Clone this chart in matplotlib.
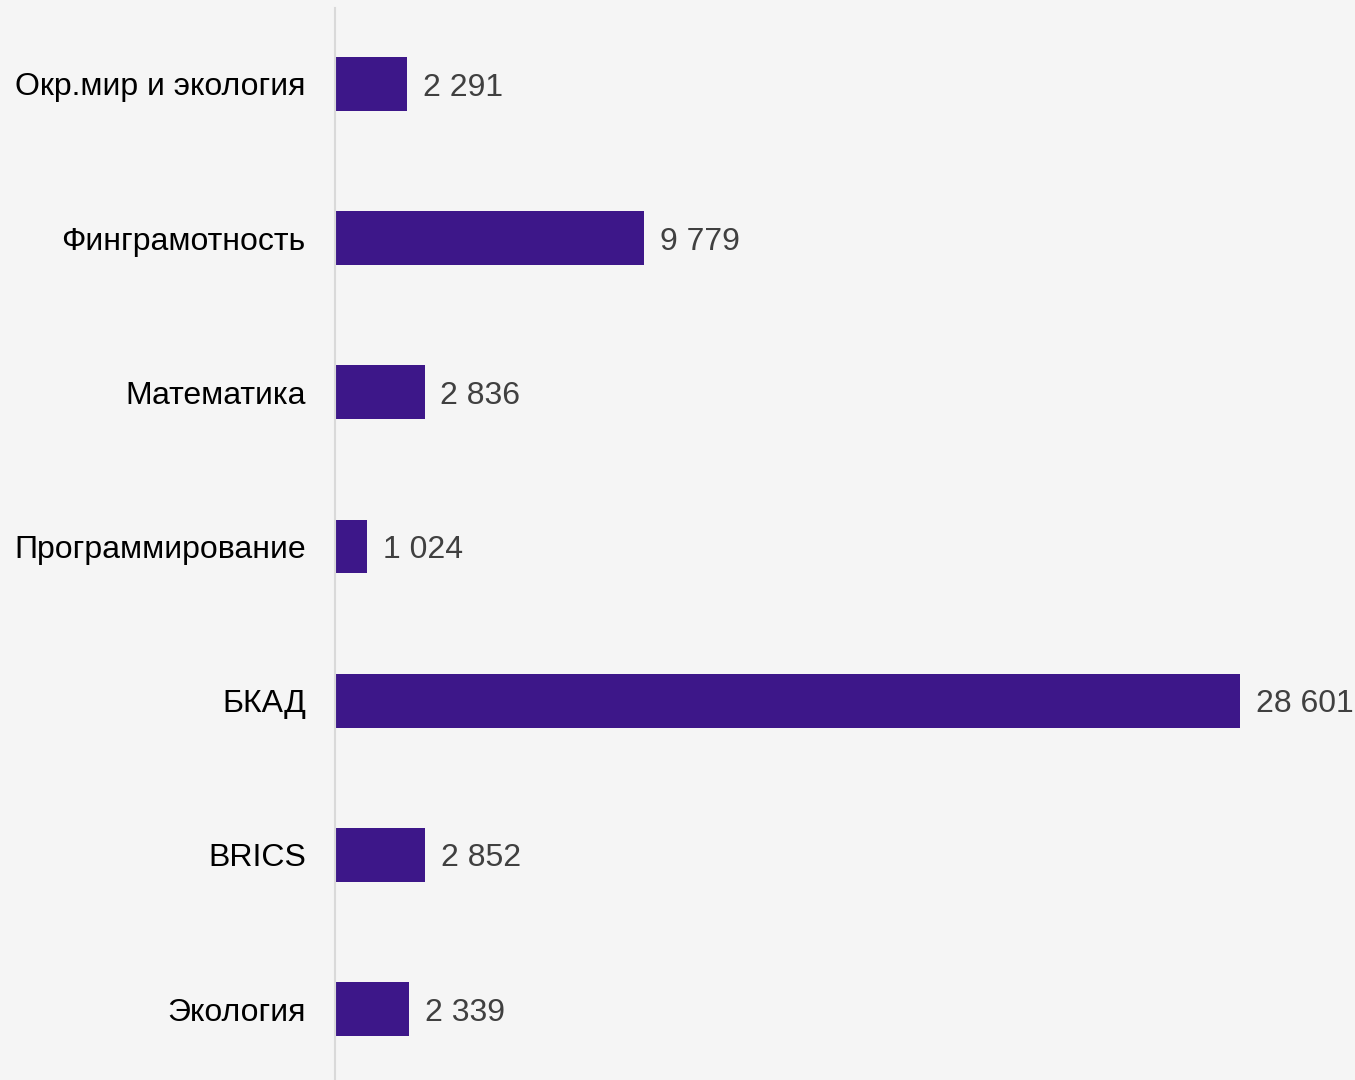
import matplotlib.pyplot as plt

plt.rcParams['font.family'] = ['Liberation Sans', 'DejaVu Sans']

categories = ['Окр.мир и экология', 'Финграмотность', 'Математика',
              'Программирование', 'БКАД', 'BRICS', 'Экология']
values = [2291, 9779, 2836, 1024, 28601, 2852, 2339]

bg = '#f5f5f5'
bar_color = '#3d1789'

fig = plt.figure(figsize=(13.55, 10.8), dpi=100, facecolor=bg)
ax = fig.add_axes([335 / 1355, 0, 1020 / 1355, 1072 / 1080], facecolor=bg)

pos = range(len(categories))
ax.barh(pos, values, height=0.35, color=bar_color)

ax.set_xlim(0, 1020 / 905 * 28601)
ax.set_ylim((1080 - 84) / 154.17, (8 - 84) / 154.17)

# value labels to the right of each bar
for y, v in zip(pos, values):
    ax.text(v + 490, y, f'{v:,}'.replace(',', ' '), va='center_baseline',
            ha='left', fontsize=23, color='#404040')

ax.set_yticks(list(pos))
ax.set_yticklabels(categories, fontsize=23, color='black')
ax.tick_params(axis='y', length=0, pad=21)
ax.set_xticks([])

for s in ['top', 'right', 'bottom']:
    ax.spines[s].set_visible(False)
ax.spines['left'].set_color('#d9d9d9')
ax.spines['left'].set_linewidth(1.5)

fig.savefig('out.png', dpi=100, facecolor=bg)
